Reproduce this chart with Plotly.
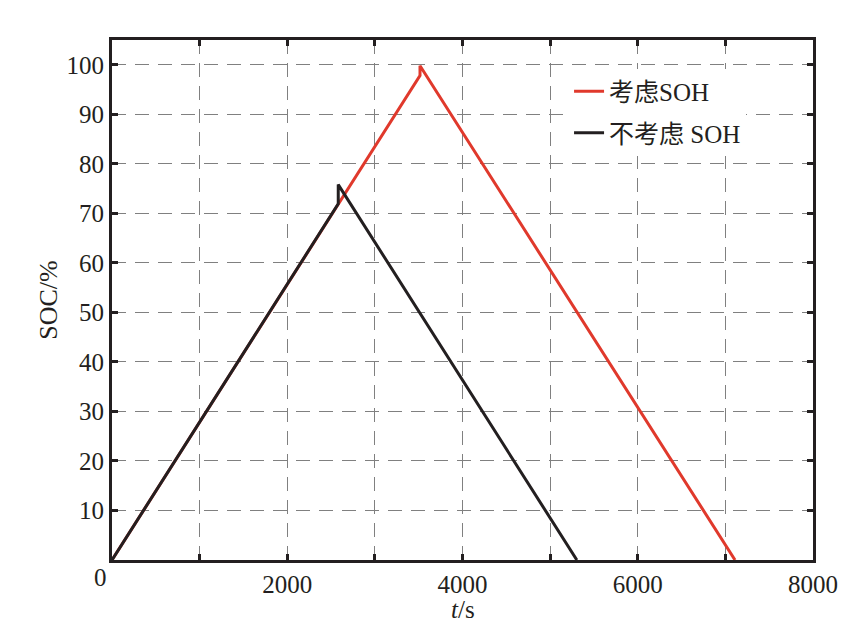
import plotly.graph_objects as go

# data
t_soh = [0, 3515, 3515, 7110]
soc_soh = [0, 97.8, 99.8, 0]
t_nosoh = [0, 2582, 2582, 5305]
soc_nosoh = [0, 71.9, 75.8, 0]

x_ticks = [0, 1000, 2000, 3000, 4000, 5000, 6000, 7000, 8000]
x_labels = ["", "", "2000", "", "4000", "", "6000", "", "8000"]
y_ticks = [0, 10, 20, 30, 40, 50, 60, 70, 80, 90, 100]
y_labels = ["", "10", "20", "30", "40", "50", "60", "70", "80", "90", "100"]

FONT = "Liberation Serif, Times New Roman, Noto Sans CJK SC, serif"
INK = "#231f20"

fig = go.Figure()
fig.add_trace(go.Scatter(x=t_soh, y=soc_soh, mode="lines", name="考虑SOH",
                         line=dict(color="#e0392c", width=3), legendgroup="a"))
fig.add_trace(go.Scatter(x=t_nosoh, y=soc_nosoh, mode="lines", name="不考虑 SOH",
                         line=dict(color=INK, width=3), legendgroup="b"))

axis_common = dict(
    showgrid=True, gridcolor="#808080", gridwidth=1.3, griddash="14px,9px",
    showline=True, linecolor=INK, linewidth=3, mirror="allticks",
    ticks="inside", ticklen=6, tickwidth=2.5, tickcolor=INK,
    zeroline=False, tickfont=dict(family=FONT, size=25, color=INK),
)

fig.update_xaxes(range=[0, 8000], tickmode="array", tickvals=x_ticks, ticktext=x_labels,
                 **axis_common)
fig.update_yaxes(range=[0, 105], tickmode="array", tickvals=y_ticks, ticktext=y_labels,
                 title=dict(text="SOC/%", font=dict(family=FONT, size=26, color=INK),
                            standoff=2),
                 **axis_common)

fig.add_annotation(x=0, y=0, xref="x", yref="y", text="0", showarrow=False,
                   xanchor="right", yanchor="top", xshift=-3, yshift=-2,
                   font=dict(family=FONT, size=25, color=INK))
fig.add_annotation(x=4000, y=0, xref="x", yref="paper", text="<i>t</i>/s", showarrow=False,
                   xanchor="center", yanchor="middle", yshift=-49,
                   font=dict(family=FONT, size=25, color=INK))

fig.update_layout(
    width=842, height=624,
    margin=dict(l=104, r=35, t=32, b=72),
    plot_bgcolor="white", paper_bgcolor="white",
    legend=dict(x=0.652, y=0.945, xanchor="left", yanchor="top",
                bgcolor="white", borderwidth=0, tracegroupgap=6,
                traceorder="grouped",
                font=dict(family=FONT, size=25, color=INK)),
)

fig.write_html("out.html")
